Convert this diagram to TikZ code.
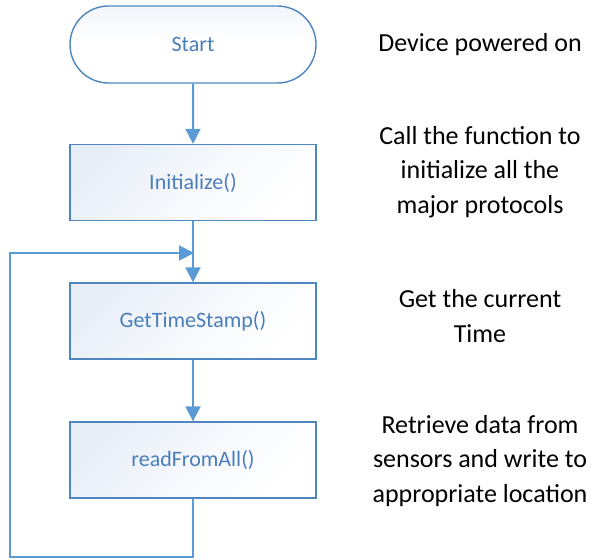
\documentclass[tikz,border=0pt]{standalone}
\usepackage{fontspec}
\setmainfont{Carlito}
\usetikzlibrary{arrows.meta,shapes.misc}
\definecolor{edgeblue}{HTML}{5B9BD5}
\definecolor{rimblue}{HTML}{5086C0}
\definecolor{labelblue}{HTML}{4A7EBB}
\definecolor{tintblue}{HTML}{E8EEF8}
\definecolor{paleblue}{HTML}{F3F6FB}
\tikzset{
  x=1pt, y=-1pt,
  procbox/.style={draw=rimblue, line width=1.4pt, minimum width=246pt, minimum height=76pt,
    top color=tintblue, bottom color=white, middle color=white!60!tintblue, shading angle=45,
    text=labelblue, font=\fontsize{22}{26}\selectfont, inner sep=0pt},
  termbox/.style={procbox, rounded rectangle, minimum height=77pt,
    top color=paleblue, bottom color=white, middle color=white},
  note/.style={align=center, font=\fontsize{26}{34.5}\selectfont, text=black},
  flow/.style={draw=edgeblue, line width=2pt, -{Triangle[length=15pt,width=15pt]}},
  back/.style={draw=edgeblue, line width=2pt},
}
\begin{document}
\begin{tikzpicture}
\useasboundingbox (0,0) rectangle (595,560);
\node[termbox] (start) at (193,44.5) {Start};
\node[procbox] (init) at (193,182.5) {Initialize()};
\node[procbox] (stamp) at (193,321) {GetTimeStamp()};
\node[procbox] (read) at (193,460) {readFromAll()};

\node[note] (n1) at (480,45) {Device powered on};
\node[note] (n2) at (480,172) {Call the function to\\initialize all the\\major protocols};
\node[note] (n3) at (480,316) {Get the current\\Time};
\node[note] (n4) at (480,461) {Retrieve data from\\sensors and write to\\appropriate location};

\coordinate (join) at (193,253);
\coordinate (c1) at (193,557);
\coordinate (c2) at (10,557);
\coordinate (c3) at (10,253);

\draw[flow] (start) -- (init);
\draw[flow] (init) -- (stamp);
\draw[flow] (stamp) -- (read);
\draw[back] (read.south) -- (c1) -- (c2) -- (c3) -- ([xshift=-1pt]join);
\draw[flow, shorten >=-1pt] (c3) -- (join);
\end{tikzpicture}
\end{document}
